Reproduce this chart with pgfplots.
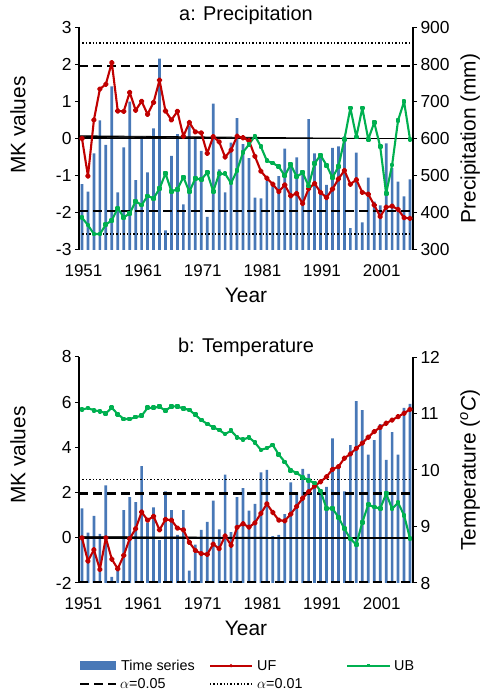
\documentclass[border=0pt]{standalone}
\usepackage{fontspec}
\setmainfont{Liberation Sans}
\usepackage{pgfplots}
\pgfplotsset{compat=1.18}
\usepackage{pgfplotstable}
\definecolor{barblue}{RGB}{72,120,183}
\definecolor{ufred}{RGB}{192,0,0}
\definecolor{ubgreen}{RGB}{0,176,80}

\pgfplotstableread{
year P UF UB
1951 477 0.00 -2.13
1952 457 -1.01 -2.33
1953 560 0.50 -2.57
1954 649 1.33 -2.57
1955 583 1.46 -2.32
1956 740 2.04 -2.20
1957 455 0.74 -1.88
1958 576 0.73 -2.12
1959 699 1.24 -2.02
1960 488 0.76 -1.69
1961 606 1.00 -1.79
1962 509 0.65 -1.55
1963 627 0.97 -1.61
1964 815 1.57 -1.35
1965 353 0.74 -0.94
1966 553 0.50 -1.42
1967 612 0.73 -1.37
1968 423 0.06 -1.04
1969 634 0.43 -1.43
1970 598 0.18 -1.08
1971 567 0.15 -1.10
1972 389 -0.40 -0.92
1973 694 0.05 -1.42
1974 517 -0.09 -0.95
1975 455 -0.50 -0.95
1976 589 -0.31 -1.20
1977 655 0.06 -0.86
1978 585 0.02 -0.37
1979 547 -0.06 -0.16
1980 441 -0.48 0.07
1981 439 -0.88 -0.22
1982 486 -1.07 -0.60
1983 477 -1.23 -0.66
1984 499 -1.43 -0.76
1985 573 -1.25 -1.00
1986 535 -1.54 -0.70
1987 549 -1.48 -1.03
1988 509 -1.75 -0.92
1989 652 -1.35 -1.28
1990 560 -1.21 -0.67
1991 547 -1.45 -0.45
1992 475 -1.59 -0.72
1993 575 -1.36 -1.05
1994 579 -1.09 -0.76
1995 606 -0.86 -0.02
1996 359 -1.23 0.82
1997 562 -1.11 0.04
1998 374 -1.45 0.82
1999 495 -1.50 -0.02
2000 430 -1.79 0.43
2001 420 -2.10 -0.22
2002 587 -1.85 -1.48
2003 520 -1.82 -0.71
2004 484 -1.91 0.49
2005 444 -2.13 0.99
2006 490 -2.15 -0.02
}\tabA

\pgfplotstableread{
year T UF UB
1951 9.32 0.00 5.67
1952 8.89 -1.03 5.74
1953 9.19 -0.53 5.64
1954 8.87 -1.40 5.60
1955 9.73 0.00 5.51
1956 8.11 -0.95 5.75
1957 8.25 -1.37 5.47
1958 9.29 -0.78 5.26
1959 9.52 -0.04 5.25
1960 9.43 0.40 5.34
1961 10.07 1.14 5.40
1962 9.07 0.78 5.75
1963 9.34 0.95 5.75
1964 8.76 0.35 5.80
1965 9.62 0.81 5.62
1966 9.29 0.78 5.82
1967 8.85 0.43 5.81
1968 9.29 0.35 5.72
1969 8.22 -0.20 5.66
1970 8.68 -0.56 5.44
1971 8.94 -0.70 5.21
1972 9.08 -0.73 5.04
1973 9.46 -0.28 4.89
1974 8.95 -0.48 4.77
1975 9.92 0.08 4.59
1976 8.90 -0.33 4.74
1977 9.52 0.46 4.45
1978 9.68 0.62 4.34
1979 9.28 0.47 4.45
1980 9.40 0.66 4.21
1981 9.96 1.08 3.89
1982 10.00 1.50 3.97
1983 8.83 1.12 4.10
1984 8.85 0.78 3.68
1985 9.22 0.75 3.36
1986 9.78 1.05 2.99
1987 9.61 1.39 2.87
1988 10.02 1.75 2.68
1989 9.93 2.04 2.55
1990 9.70 2.29 2.42
1991 9.62 2.48 2.07
1992 9.70 2.70 1.30
1993 10.56 3.03 1.30
1994 10.06 3.15 0.91
1995 9.62 3.52 0.40
1996 10.44 3.71 -0.05
1997 11.22 3.96 -0.30
1998 11.06 4.19 0.69
1999 10.27 4.45 1.46
2000 10.53 4.70 1.36
2001 10.81 4.89 1.29
2002 10.18 5.07 1.95
2003 10.67 5.21 1.29
2004 10.27 5.36 1.55
2005 11.10 5.51 1.00
2006 11.17 5.68 -0.03
}\tabB

\tikzset{
  a05/.style={black, line width=2.1bp, dash pattern=on 9bp off 5bp},
  a01/.style={black, line width=1.9bp, dash pattern=on 1.3bp off 2.1bp},
}

\pgfplotsset{
  common/.style={scale only axis, width=334bp, xmin=1950.5, xmax=2006.5,
    /pgf/number format/assume math mode=true,
    /pgf/number format/1000 sep={},
    tick align=outside, major tick length=4bp,
    tick style={black, line width=1bp},
    axis line style={black, line width=1.6bp}},
  baraxis/.style={common, axis x line=none, axis y line*=right,
    yticklabel style={font=\fontsize{17.5}{20}\selectfont},
    every axis y label/.style={at={(rel axis cs:1.171,0.5)}, rotate=90, anchor=center,
      font=\fontsize{21}{24}\selectfont}},
  lineaxis/.style={common, axis y line*=left, axis x line*=bottom,
    x axis line style={draw=none}, x tick style={draw=none},
    xtick={1951,1961,1971,1981,1991,2001},
    xticklabel style={font=\fontsize{17}{19}\selectfont, anchor=base, yshift=-22.5bp, xshift=1.5bp},
    yticklabel style={font=\fontsize{17.5}{20}\selectfont},
    every axis y label/.style={at={(rel axis cs:-0.183,0.56)}, rotate=90, anchor=center,
      font=\fontsize{21}{24}\selectfont},
    every axis x label/.style={at={(rel axis cs:0.5,-0.202)}, anchor=center,
      font=\fontsize{21}{24}\selectfont}},
  ufline/.style={ufred, line width=2.1bp, mark=*, mark size=1.8bp, mark options={solid}, line join=round},
  ubline/.style={ubgreen, line width=2.1bp, mark=square*, mark size=1.3bp, mark options={solid}, line join=round},
}

\begin{document}
\begin{tikzpicture}
\useasboundingbox (0,0) rectangle (489bp,694bp);

% ---------- panel a ----------
\begin{axis}[baraxis, height=223bp, at={(79bp,444bp)}, anchor=south west,
  ymin=300, ymax=900, ytick={300,400,...,900}, ylabel={Precipitation (mm)}]
  \addplot[ybar, bar width=2.7bp, fill=barblue, draw=none] table[x=year,y=P]{\tabA};
\end{axis}
\begin{axis}[lineaxis, height=223bp, at={(79bp,444bp)}, anchor=south west,
  ymin=-3, ymax=3, ytick={-3,-2,...,3}, ylabel={MK values}, xlabel={Year},
  title={a: Precipitation},
  every axis title/.style={at={(rel axis cs:0.5,1.054)}, anchor=center,
    font=\fontsize{20}{22}\selectfont}]
  \addplot[a01] coordinates {(1950.5,2.58) (2006.5,2.58)};
  \addplot[a01] coordinates {(1950.5,-2.58) (2006.5,-2.58)};
  \addplot[a05] coordinates {(1950.5,1.96) (2006.5,1.96)};
  \addplot[a05] coordinates {(1950.5,-1.96) (2006.5,-1.96)};
  \addplot[black, line width=1.6bp] coordinates {(1950.5,0) (2006.5,0)};
  \pgfplotsinvokeforeach{1960.5,1970.5,1980.5,1990.5,2000.5}{
    \draw[black, line width=0.8bp] (axis cs:#1,0) -- ++(0,-3.5bp);}
  \addplot[ufline] table[x=year,y=UF]{\tabA};
  \addplot[ubline] table[x=year,y=UB]{\tabA};
\end{axis}

% ---------- panel b ----------
\begin{axis}[baraxis, height=226bp, at={(79bp,111bp)}, anchor=south west,
  ymin=8, ymax=12, ytick={8,9,...,12},
  ylabel={Temperature (\textsuperscript{\itshape o}\textit{C})}]
  \addplot[ybar, bar width=2.7bp, fill=barblue, draw=none] table[x=year,y=T]{\tabB};
\end{axis}
\begin{axis}[lineaxis, height=226bp, at={(79bp,111bp)}, anchor=south west,
  ymin=-2, ymax=8, ytick={-2,0,...,8}, ylabel={MK values}, xlabel={Year},
  every axis y label/.append style={at={(rel axis cs:-0.183,0.566)}},
  every axis x label/.append style={at={(rel axis cs:0.5,-0.199)}},
  title={b: Temperature},
  every axis title/.style={at={(rel axis cs:0.5,1.044)}, anchor=center,
    font=\fontsize{20}{22}\selectfont}]
  \addplot[a01] coordinates {(1950.5,2.58) (2006.5,2.58)};
  \addplot[a05] coordinates {(1950.5,1.96) (2006.5,1.96)};
  \addplot[a05] coordinates {(1950.5,-1.96) (2006.5,-1.96)};
  \addplot[black, line width=1.6bp] coordinates {(1950.5,0) (2006.5,0)};
  \pgfplotsinvokeforeach{1960.5,1970.5,1980.5,1990.5,2000.5}{
    \draw[black, line width=0.8bp] (axis cs:#1,0) -- ++(0,-3.5bp);}
  \addplot[ufline] table[x=year,y=UF]{\tabB};
  \addplot[ubline] table[x=year,y=UB]{\tabB};
\end{axis}

% ---------- legend ----------
\begin{scope}[font=\fontsize{14.4}{16}\selectfont]
  \fill[barblue] (80bp,24bp) rectangle (116bp,33bp);
  \node[anchor=west, inner sep=0pt] at (121bp,28.3bp) {Time series};
  \draw[ufred, line width=2bp] (210bp,28.3bp) -- (252bp,28.3bp);
  \fill[ufred] (231bp,28.3bp) circle (1.8bp);
  \node[anchor=west, inner sep=0pt] at (257bp,28.3bp) {UF};
  \draw[ubgreen, line width=2bp] (347bp,28.3bp) -- (390bp,28.3bp);
  \fill[ubgreen] (366.5bp,26.8bp) rectangle (369.5bp,29.8bp);
  \node[anchor=west, inner sep=0pt] at (394bp,28.3bp) {UB};
  \draw[a05] (80bp,10bp) -- (116bp,10bp);
  \node[anchor=west, inner sep=0pt] at (120bp,10bp) {$\alpha$=0.05};
  \draw[a01] (210bp,10bp) -- (252bp,10bp);
  \node[anchor=west, inner sep=0pt] at (257bp,10bp) {$\alpha$=0.01};
\end{scope}
\end{tikzpicture}
\end{document}
